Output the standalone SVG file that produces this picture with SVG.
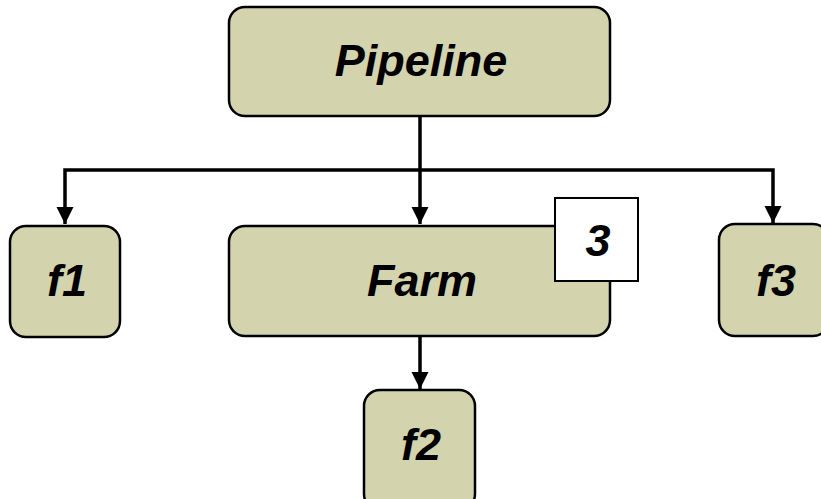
<svg xmlns="http://www.w3.org/2000/svg" width="821" height="499" viewBox="0 0 821 499">
<style>
.node{fill:#d3d3ad;stroke:#000;stroke-width:2.5}
.badge{fill:#fff;stroke:#000;stroke-width:2}
.lbl{font-family:"Liberation Sans",Arial,sans-serif;font-weight:bold;font-style:italic;font-size:45px;text-anchor:middle;fill:#000}
.conn{fill:none;stroke:#000;stroke-width:3.5}
</style>
<defs>
<marker id="ah" markerWidth="5" markerHeight="5" refX="5" refY="2.5" orient="auto" markerUnits="strokeWidth">
<path d="M0,0 L5,2.5 L0,5 Z" fill="#000"/>
</marker>
</defs>
<rect width="821" height="499" fill="#fff"/>
<g id="connectors">
<path class="conn" d="M420,116 V170"/>
<path class="conn" d="M420,170 H65 V224" marker-end="url(#ah)"/>
<path class="conn" d="M420,170 V224" marker-end="url(#ah)"/>
<path class="conn" d="M420,170 H773 V223" marker-end="url(#ah)"/>
<path class="conn" d="M420,336 V389" marker-end="url(#ah)"/>
</g>
<g id="pipeline">
<rect class="node" x="229" y="7" width="381" height="109" rx="16"/>
<text class="lbl" x="421" y="76">Pipeline</text>
</g>
<g id="f1">
<rect class="node" x="10" y="226" width="110" height="111" rx="16"/>
<text class="lbl" x="67" y="296">f1</text>
</g>
<g id="farm">
<rect class="node" x="229" y="226" width="381" height="110" rx="16"/>
<text class="lbl" x="422" y="296">Farm</text>
<g id="farm-count">
<rect class="badge" x="555" y="198" width="83" height="83"/>
<text class="lbl" x="598" y="256">3</text>
</g>
</g>
<g id="f3">
<rect class="node" x="719" y="224" width="110" height="112" rx="16"/>
<text class="lbl" x="776" y="296">f3</text>
</g>
<g id="f2">
<rect class="node" x="364" y="390" width="111" height="120" rx="16"/>
<text class="lbl" x="421" y="460">f2</text>
</g>
</svg>
